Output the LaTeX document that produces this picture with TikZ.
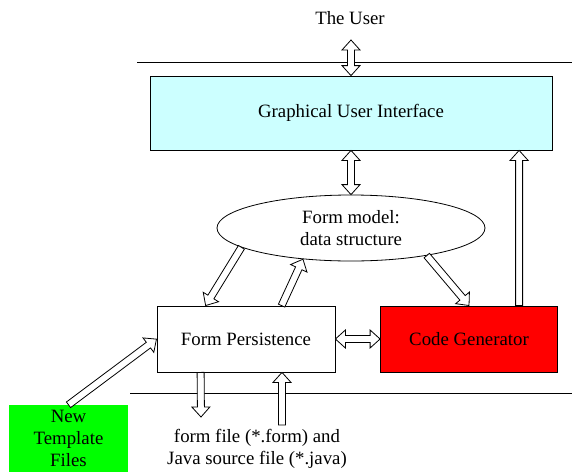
\documentclass[tikz,border=0pt]{standalone}
\usepackage{fontspec}
\setmainfont{Liberation Serif}
\usetikzlibrary{calc,shapes.geometric}

\definecolor{guicyan}{RGB}{204,255,255}
\definecolor{tplgreen}{RGB}{0,255,0}

% hollow block arrows: half shaft width, half head width, head length
\newcommand{\bsw}{3.5pt}
\newcommand{\bhw}{9pt}
\newcommand{\bhl}{10pt}

% single-headed block arrow from #1 to #2
\newcommand{\onearrow}[2]{%
  \filldraw[blockarrow] let \p1=(#1), \p2=(#2),
      \n1={atan2(\y2-\y1,\x2-\x1)}, \n2={veclen(\x2-\x1,\y2-\y1)} in
    [shift={(\p1)}, rotate=\n1]
    (0pt,-\bsw) -- (\n2-\bhl,-\bsw) -- (\n2-\bhl,-\bhw) -- (\n2,0pt)
    -- (\n2-\bhl,\bhw) -- (\n2-\bhl,\bsw) -- (0pt,\bsw) -- cycle;}

% double-headed block arrow between #1 and #2
\newcommand{\twoarrow}[2]{%
  \filldraw[blockarrow] let \p1=(#1), \p2=(#2),
      \n1={atan2(\y2-\y1,\x2-\x1)}, \n2={veclen(\x2-\x1,\y2-\y1)} in
    [shift={(\p1)}, rotate=\n1]
    (0pt,0pt) -- (\bhl,\bhw) -- (\bhl,\bsw) -- (\n2-\bhl,\bsw) -- (\n2-\bhl,\bhw)
    -- (\n2,0pt) -- (\n2-\bhl,-\bhw) -- (\n2-\bhl,-\bsw) -- (\bhl,-\bsw)
    -- (\bhl,-\bhw) -- cycle;}

\tikzset{
  blockarrow/.style={draw=black, fill=white, line width=0.8pt, line join=miter},
  box/.style={draw=black, rectangle, line width=0.8pt, inner sep=0pt},
  label/.style={align=center, inner sep=0pt},
  border/.style={line width=0.8pt},
}

\begin{document}
\begin{tikzpicture}[x=1pt, y=-1pt, font=\fontsize{18.8}{22}\selectfont]
\useasboundingbox (0,0) rectangle (576,472);

% system boundary lines
\coordinate (tl1) at (137,62);
\coordinate (tl2) at (572,62);
\coordinate (bl1) at (130,393);
\coordinate (bl2) at (572,393);
\draw[border] (tl1) -- (tl2);
\draw[border] (bl1) -- (bl2);

% nodes
\node[label] (user) at (350,18) {The User};
\node[box, fill=guicyan, minimum width=402pt, minimum height=74pt] (gui) at (351,113)
  {Graphical User Interface};
\node[draw=black, ellipse, line width=0.8pt, inner sep=0pt, align=center,
      minimum width=268pt, minimum height=66pt] (fm) at (351,228)
  {Form model:\\data structure};
\node[box, fill=white, minimum width=178pt, minimum height=66pt] (fp) at (246,339)
  {Form Persistence};
\node[box, fill=red, minimum width=177pt, minimum height=66pt] (cg) at (469,339)
  {Code Generator};
\node[fill=tplgreen, inner sep=0pt, align=center, minimum width=119pt,
      minimum height=67pt] (tpl) at (68.5,438.5) {New\\Template\\Files};
\node[label] (files) at (257,449) {form file (*.form) and\\Java source file (*.java)};

% arrow end points
\coordinate (userport) at (351,40);
\coordinate (fileout) at (201,417);
\coordinate (filein) at (282,425);
\coordinate (cgport) at ($(cg.north west)+(139,0)$);

% connectors
\twoarrow{userport}{gui.north}
\twoarrow{gui.south}{fm.north}
\onearrow{fm.190}{$(fp.north west)+(49,0)$}
\onearrow{$(fp.north west)+(125,0)$}{fm.213}
\onearrow{fm.340}{$(cg.north west)+(89,0)$}
\onearrow{cgport}{cgport |- gui.south}
\twoarrow{fp.east}{cg.west}
\onearrow{tpl.north}{fp.west}
\onearrow{$(fp.south west)+(44,0)$}{fileout}
\onearrow{filein}{filein |- fp.south}
\end{tikzpicture}
\end{document}
